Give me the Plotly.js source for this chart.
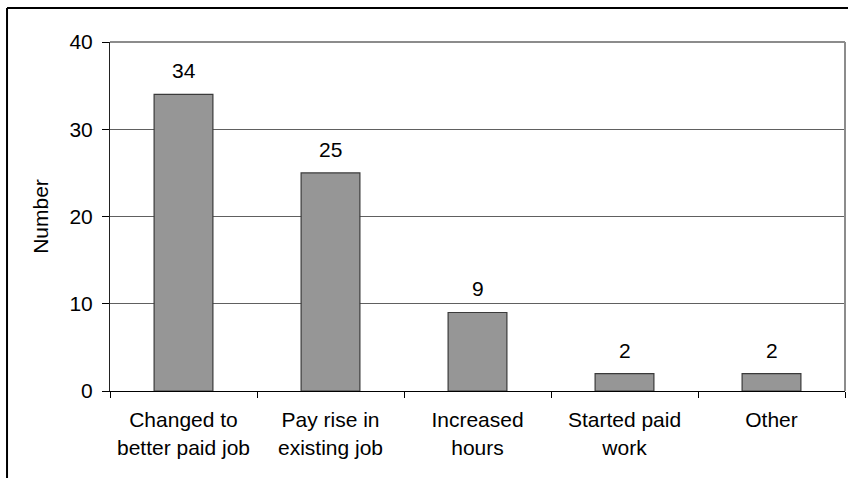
<!DOCTYPE html>
<html><head><meta charset="utf-8">
<script src="https://cdn.plot.ly/plotly-3.0.1.min.js"></script>
<style>html,body{margin:0;padding:0;background:#fff;}#chart{width:848px;height:478px;}</style>
</head><body><div id="chart"></div>
<script>
const categories = ["Changed to<br>better paid job", "Pay rise in<br>existing job", "Increased<br>hours", "Started paid<br>work", "Other"];
const values = [34, 25, 9, 2, 2];
const yTicks = [0, 10, 20, 30, 40];

const font = {family: "Liberation Sans, Arial, sans-serif", size: 21, color: "#000"};

const trace = {
  type: "bar",
  x: categories,
  y: values,
  width: 0.4,
  marker: {color: "#969696", line: {color: "#3a3a3a", width: 1.2}},
  hoverinfo: "none"
};

const annotations = values.map((v, i) => ({
  x: categories[i], y: v, xref: "x", yref: "y",
  text: String(v), showarrow: false, yanchor: "bottom", yshift: 10,
  font: font
}));

const layout = {
  width: 848, height: 478,
  margin: {l: 110, r: 3, t: 42, b: 87},
  paper_bgcolor: "#fff", plot_bgcolor: "#fff",
  font: font,
  showlegend: false,
  xaxis: {
    tickson: "boundaries", ticks: "outside", ticklen: 6, tickcolor: "#000", tickwidth: 1,
    showline: true, linecolor: "#000", linewidth: 1,
    showgrid: false, tickfont: font, fixedrange: true,
    ticklabelstandoff: 10
  },
  yaxis: {
    range: [0, 40], tickvals: yTicks, ticktext: yTicks.map(String),
    ticks: "outside", ticklen: 7, tickcolor: "#000", tickwidth: 1,
    showline: true, linecolor: "#222", linewidth: 1,
    showgrid: true, gridcolor: "#606060", gridwidth: 1,
    zeroline: false, tickfont: font, ticklabelstandoff: 5,
    title: {text: "Number", font: font, standoff: 15}, fixedrange: true
  },
  annotations: annotations,
  shapes: [
    {type: "line", xref: "paper", yref: "paper", x0: 0, x1: 1, y0: 1, y1: 1, line: {color: "#8c8c8c", width: 2}},
    {type: "line", xref: "paper", yref: "paper", x0: 1, x1: 1, y0: 0, y1: 1, line: {color: "#8c8c8c", width: 2}},
    {type: "line", xref: "paper", yref: "paper", x0: -0.1401, x1: 1.01, y0: 1.0974, y1: 1.0974, line: {color: "#000", width: 2}},
    {type: "line", xref: "paper", yref: "paper", x0: -0.1401, x1: -0.1401, y0: -0.3, y1: 1.0974, line: {color: "#000", width: 2}}
  ]
};

Plotly.newPlot("chart", [trace], layout, {displayModeBar: false, staticPlot: true});
</script></body></html>
